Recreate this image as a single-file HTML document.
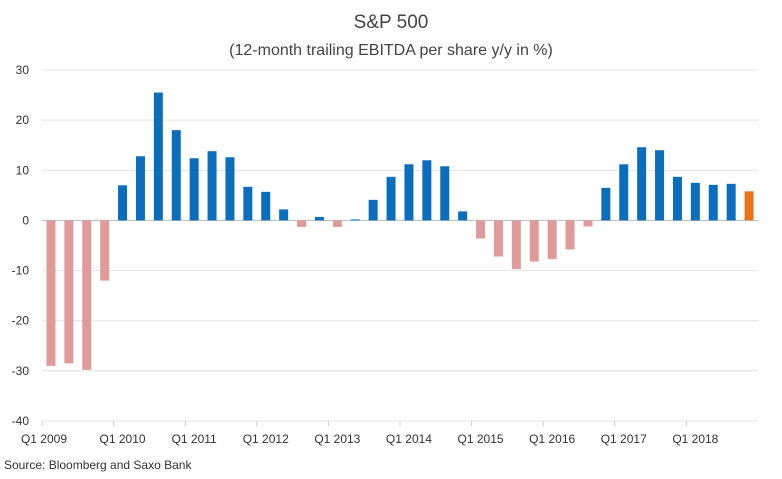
<!DOCTYPE html>
<html><head><meta charset="utf-8">
<style>
body{margin:0;background:#fff;font-family:"Liberation Sans",sans-serif;}
svg text{font-family:"Liberation Sans",sans-serif;}
</style></head>
<body>
<svg id="chart" width="782" height="474" xmlns="http://www.w3.org/2000/svg">
<rect width="782" height="474" fill="#fff"/>
<text x="391" y="28" text-anchor="middle" font-size="19" fill="#444">S&amp;P 500</text>
<text x="391" y="55" text-anchor="middle" font-size="16" fill="#444">(12-month trailing EBITDA per share y/y in %)</text>
<g id="grid"></g><g id="bars"></g><g id="axes"></g>
<text x="4" y="469" font-size="12" fill="#333">Source: Bloomberg and Saxo Bank</text>
</svg>
<script>
const quarters=[];for(let y=2009;y<=2018;y++)for(let q=1;q<=4;q++)quarters.push('Q'+q+' '+y);
const values=[-29,-28.5,-29.8,-12, 7,12.8,25.5,18, 12.4,13.8,12.6,6.7, 5.7,2.2,-1.3,0.7, -1.3,0.2,4.1,8.7, 11.2,12,10.8,1.8, -3.6,-7.2,-9.7,-8.2, -7.7,-5.8,-1.2,6.5, 11.2,14.6,14,8.7, 7.5,7.1,7.3,5.8];
const yTicks=[-40,-30,-20,-10,0,10,20,30];
const xLabels=['Q1 2009','Q1 2010','Q1 2011','Q1 2012','Q1 2013','Q1 2014','Q1 2015','Q1 2016','Q1 2017','Q1 2018'];
const NS='http://www.w3.org/2000/svg';
const L=42,R=758,T=70,B=421,yMin=-40,yMax=30;
const step=(R-L)/quarters.length;
const yS=v=>B-(v-yMin)/(yMax-yMin)*(B-T);
const xC=i=>L+step*(i+0.5);
function mk(t,a,p){const e=document.createElementNS(NS,t);for(const k in a)e.setAttribute(k,a[k]);p.appendChild(e);return e;}
const grid=document.getElementById('grid'),bars=document.getElementById('bars'),axes=document.getElementById('axes');
yTicks.forEach(v=>{
 const l=mk('line',{x1:L,x2:R,y1:yS(v),y2:yS(v),stroke:v===0?'#bbb':'#e3e3e3','stroke-width':1},grid);
 
 
 const t=mk('text',{x:29,y:yS(v)+4,'text-anchor':'end','font-size':12,fill:'#333'},axes);
 t.textContent=v;
 
 
});
values.forEach((v,i)=>{
 const c=i===values.length-1?'#e8731c':(v>=0?'#0a6ebd':'#e09a9a');
 const y0=yS(0),y1=yS(v);
 const r=mk('rect',{x:xC(i)-4.5,y:Math.min(y0,y1),width:9,height:Math.max(Math.abs(y1-y0),0.5),fill:c},bars);
 
 
});
xLabels.forEach((s,k)=>{
 const i=quarters.indexOf(s);
 const tk=mk('line',{x1:L+step*i,x2:L+step*i,y1:B,y2:B+5,stroke:'#ccc'},axes);
 
 
 const t=mk('text',{x:k===0?44:xC(i),y:443,'text-anchor':'middle','font-size':12,fill:'#333'},axes);
 t.textContent=s;
 
 
});
</script>
</body></html>
